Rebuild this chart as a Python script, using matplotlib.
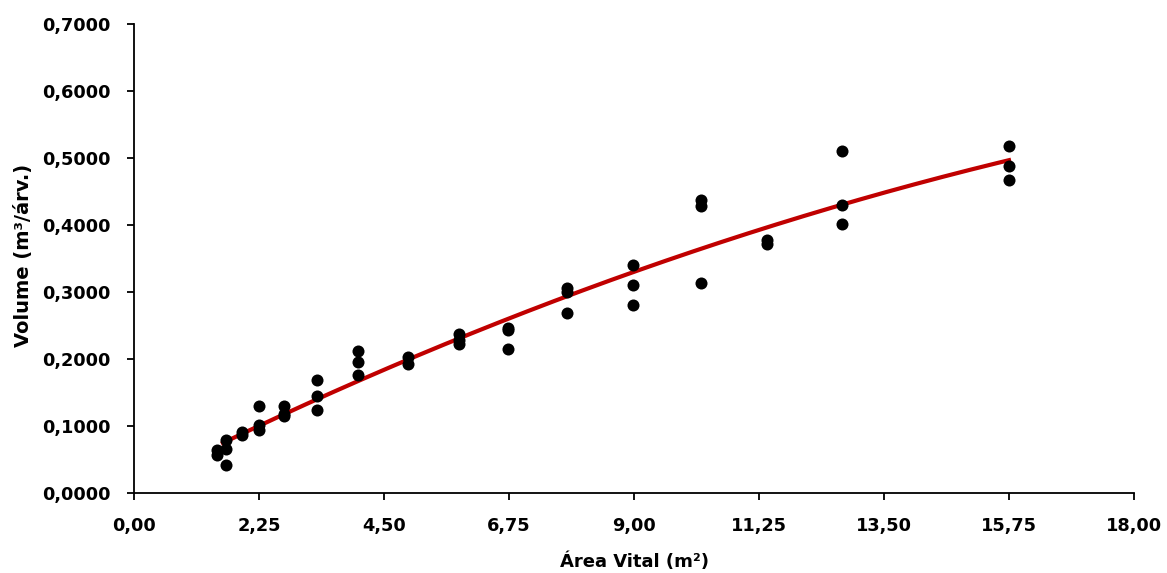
import numpy as np
import matplotlib.pyplot as plt
from matplotlib.ticker import FuncFormatter

plt.rcParams['font.family'] = ['DejaVu Sans']
plt.rcParams['font.weight'] = 'bold'

# area vital (m2) and volume (m3/tree)
area = [1.49, 1.49, 1.65, 1.65, 1.65,
        1.94, 1.94,
        2.25, 2.25, 2.25,
        2.70, 2.70, 2.70,
        3.30, 3.30, 3.30,
        4.04, 4.04, 4.04,
        4.94, 4.94,
        5.85, 5.85, 5.85,
        6.74, 6.74, 6.74,
        7.79, 7.79, 7.79,
        8.99, 8.99, 8.99,
        10.20, 10.20, 10.20,
        11.40, 11.40,
        12.75, 12.75, 12.75,
        15.75, 15.75, 15.75]
volume = [0.064, 0.057, 0.079, 0.066, 0.042,
          0.0915, 0.086,
          0.130, 0.101, 0.094,
          0.130, 0.118, 0.115,
          0.168, 0.145, 0.124,
          0.212, 0.195, 0.176,
          0.203, 0.193,
          0.238, 0.229, 0.223,
          0.246, 0.243, 0.215,
          0.3055, 0.300, 0.268,
          0.341, 0.310, 0.281,
          0.438, 0.428, 0.313,
          0.378, 0.371,
          0.511, 0.430, 0.401,
          0.518, 0.488, 0.467]

x_ticks = [0, 2.25, 4.5, 6.75, 9, 11.25, 13.5, 15.75, 18]
y_ticks = [0, 0.1, 0.2, 0.3, 0.4, 0.5, 0.6, 0.7]

area = np.array(area)
volume = np.array(volume)

# quadratic trend line fitted to the points
coef = np.polyfit(area, volume, 2)
xs = np.linspace(1.6, area.max(), 200)
ys = np.polyval(coef, xs)

fig = plt.figure(figsize=(11.67, 5.73), dpi=100)
ax = fig.add_axes([134 / 1167, 1 - 493 / 573, 1000 / 1167, (493 - 24) / 573])

ax.scatter(area, volume, s=75, color='black', zorder=3, linewidths=0)
ax.plot(xs, ys, color='#C00000', lw=3, zorder=2)

ax.set_xlim(0, 18)
ax.set_ylim(0, 0.7)
ax.set_xticks(x_ticks)
ax.set_yticks(y_ticks)
ax.xaxis.set_major_formatter(FuncFormatter(lambda v, p: f"{v:.2f}".replace('.', ',')))
ax.yaxis.set_major_formatter(FuncFormatter(lambda v, p: f"{v:.4f}".replace('.', ',')))

ax.spines['top'].set_visible(False)
ax.spines['right'].set_visible(False)
ax.spines['left'].set_linewidth(1.3)
ax.spines['bottom'].set_linewidth(1.3)
ax.tick_params(direction='out', length=5, width=1.3, labelsize=12.8, pad=12)

ax.set_xlabel('Área Vital (m²)', fontsize=13, fontweight='bold', labelpad=13)
ax.set_ylabel('Volume (m³/árv.)', fontsize=14, fontweight='bold')
ax.yaxis.set_label_coords(-0.101, 0.507)

fig.savefig('out.png', dpi=100)
